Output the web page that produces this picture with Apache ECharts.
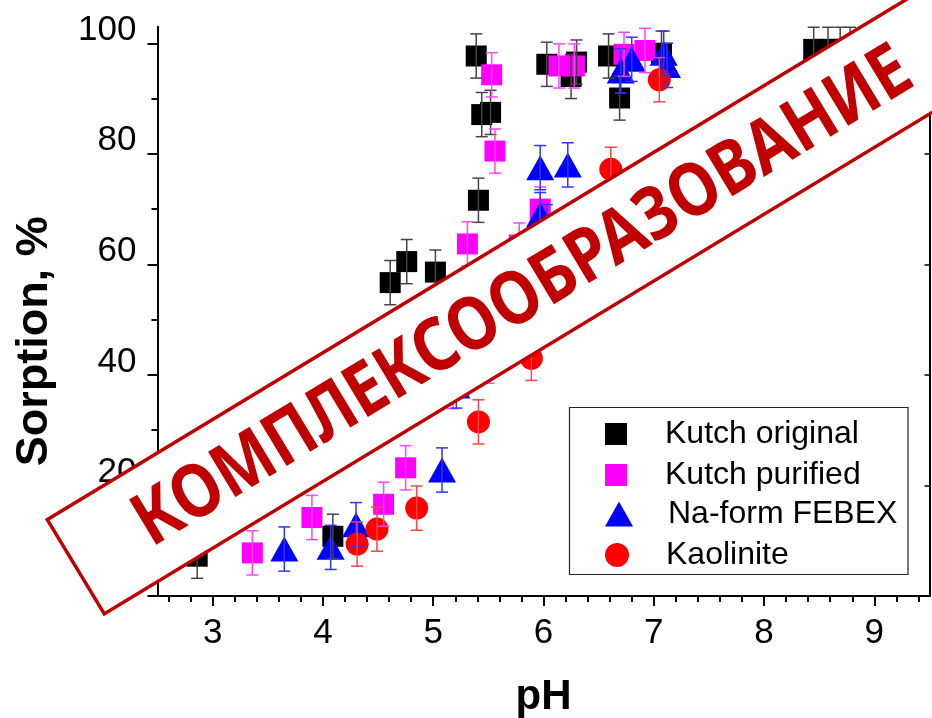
<!DOCTYPE html>
<html><head><meta charset="utf-8">
<script src="https://cdn.jsdelivr.net/npm/echarts@6/dist/echarts.min.js"></script>
<style>html,body{margin:0;padding:0;background:#fff}#c{width:932px;height:718px}</style>
</head><body><div id="c"></div>
<script>
// ---------- data ----------
const seriesNames = ['Kutch original', 'Kutch purified', 'Na-form FEBEX', 'Kaolinite'];

const kutchOrigPH   = [2.86, 4.09, 4.61, 4.76, 5.02, 5.41, 5.39, 5.44, 5.52, 6.03, 6.25, 6.30, 6.59, 6.69, 7.07, 8.45, 8.58, 8.69, 8.78];
const kutchOrigSorp = [7.2, 10.8, 56.7, 60.5, 58.6, 71.6, 97.7, 87.1, 87.5, 96.2, 94.0, 96.6, 97.7, 90.1, 98.2, 98.9, 98.9, 98.9, 98.9];
const kutchOrigErr  = [4, 4, 4, 4, 4, 4, 4, 4, 4, 4, 4, 4, 4, 4, 4, 4, 4, 4, 4];

const kutchPurPH   = [3.36, 3.90, 4.55, 4.75, 5.18, 5.31, 5.50, 5.53, 5.56, 5.78, 5.97, 6.14, 6.28, 6.73, 6.92];
const kutchPurSorp = [7.8, 14.2, 16.6, 23.2, 37.9, 63.7, 42.5, 94.3, 80.5, 63.5, 70.0, 95.9, 95.9, 98.0, 98.7];
const kutchPurErr  = [4, 4, 4, 4, 4, 4, 4, 4, 4, 4, 4, 4, 4, 4, 4];

const febexPH   = [3.65, 4.07, 4.30, 5.08, 5.21, 5.97, 5.97, 6.03, 6.22, 6.70, 6.80, 7.09, 7.12];
const febexSorp = [8.5, 8.8, 12.9, 22.8, 38.0, 77.5, 69.0, 66.8, 78.0, 95.0, 97.1, 98.2, 96.0];
const febexErr  = [4, 4, 4, 4, 4, 4, 4, 4, 4, 4, 4, 4, 4];

const kaolPH   = [4.31, 4.49, 4.85, 5.41, 5.89, 6.61, 7.05];
const kaolSorp = [9.4, 12.1, 15.9, 31.5, 43.0, 77.2, 93.4];
const kaolErr  = [4, 4, 4, 4, 4, 4, 4];

const xTickLabels = [3, 4, 5, 6, 7, 8, 9];
const yTickLabels = [20, 40, 60, 80, 100];
const yMajorTicks = [0, 20, 40, 60, 80, 100];
const yMinorTicks = [10, 30, 50, 70, 90];
const xMinorTicks = [];
for (let k = 13; k <= 47; k++) { if (k % 5 !== 0) xMinorTicks.push(k / 5); }
const xTopTicks = [];
for (let k = 13; k <= 47; k++) xTopTicks.push(k / 5);

const stampText = 'КОМПЛЕКСООБРАЗОВАНИЕ';

// ---------- chart ----------
const FONT = '"Liberation Sans", Arial, sans-serif';
const chart = echarts.init(document.getElementById('c'), null, {renderer: 'canvas'});

function scatter(name, ph, val, color, symbol, size) {
  return {
    type: 'scatter', name: name, symbol: symbol, symbolSize: size,
    data: ph.map((p, i) => [p, val[i]]),
    itemStyle: {color: color, opacity: 1},
    z: 2, silent: true
  };
}
function errBars(ph, val, err, color) {
  return {
    type: 'custom', z: 3, silent: true,
    data: ph.map((p, i) => [p, val[i] - err[i], val[i] + err[i]]),
    encode: {x: 0, y: [1, 2]},
    renderItem: function (params, api) {
      const x = api.value(0);
      const lo = api.coord([x, api.value(1)]);
      const hi = api.coord([x, api.value(2)]);
      const hw = 6;
      const st = {stroke: color, lineWidth: 1.5};
      return {type: 'group', children: [
        {type: 'line', shape: {x1: lo[0], y1: lo[1], x2: hi[0], y2: hi[1]}, style: st},
        {type: 'line', shape: {x1: lo[0] - hw, y1: lo[1], x2: lo[0] + hw, y2: lo[1]}, style: st},
        {type: 'line', shape: {x1: hi[0] - hw, y1: hi[1], x2: hi[0] + hw, y2: hi[1]}, style: st}
      ]};
    }
  };
}
function legendItem(name, icon, h, centerY) {
  return {
    data: [name], orient: 'vertical', left: 605, top: centerY - 14, padding: 0,
    itemWidth: 88, itemHeight: h, icon: icon, selectedMode: false,
    textStyle: {fontSize: 32, fontFamily: FONT, color: '#000'}
  };
}

const axisLineStyle = {color: '#000', width: 2};
const option = {
  animation: false,
  backgroundColor: '#fff',
  grid: {left: 157.5, right: 2.5, top: 26.7, bottom: 122, show: false,
         containLabel: false, outerBoundsMode: 'none'},
  xAxis: [
    {type: 'value', min: 2.5, max: 9.5, position: 'bottom',
     axisLine: {lineStyle: axisLineStyle},
     axisTick: {customValues: xTickLabels, length: 10, lineStyle: {color: '#000', width: 2}},
     axisLabel: {customValues: xTickLabels, margin: 20, fontSize: 35, color: '#000', fontFamily: FONT},
     splitLine: {show: false},
     name: 'pH', nameLocation: 'middle', nameGap: 80,
     nameTextStyle: {fontSize: 42, fontWeight: 'bold', color: '#000', fontFamily: FONT}},
    {type: 'value', min: 2.5, max: 9.5, position: 'bottom',
     axisLine: {show: false},
     axisTick: {customValues: xMinorTicks, length: 6, lineStyle: {color: '#000', width: 2}},
     axisLabel: {show: false}, splitLine: {show: false}},
    {type: 'value', min: 2.5, max: 9.5, position: 'top',
     axisLine: {lineStyle: axisLineStyle},
     axisTick: {inside: true, customValues: xTopTicks, length: 3, lineStyle: {color: '#000', width: 1}},
     axisLabel: {show: false}, splitLine: {show: false}}
  ],
  yAxis: [
    {type: 'value', min: 0, max: 103, position: 'left',
     axisLine: {lineStyle: axisLineStyle},
     axisTick: {customValues: yMajorTicks, length: 10, lineStyle: {color: '#000', width: 2}},
     axisLabel: {customValues: yTickLabels, margin: 21, fontSize: 35, color: '#000', fontFamily: FONT,
                 verticalAlign: 'bottom', lineHeight: 26},
     splitLine: {show: false},
     name: 'Sorption, %', nameLocation: 'middle', nameRotate: 90, nameGap: 100,
     nameTextStyle: {fontSize: 45, fontWeight: 'bold', color: '#000', fontFamily: FONT, padding: [0, 60, 0, 0]}},
    {type: 'value', min: 0, max: 103, position: 'left',
     axisLine: {show: false},
     axisTick: {customValues: yMinorTicks, length: 6, lineStyle: {color: '#000', width: 2}},
     axisLabel: {show: false}, splitLine: {show: false}},
    {type: 'value', min: 0, max: 103, position: 'right',
     axisLine: {lineStyle: axisLineStyle},
     axisTick: {inside: true, customValues: yMajorTicks, length: 5, lineStyle: {color: '#000', width: 1.5}},
     axisLabel: {show: false}, splitLine: {show: false}}
  ],
  legend: [
    legendItem(seriesNames[0], 'path://M0,0L22,0L22,22L0,22Z', 22, 432),
    legendItem(seriesNames[1], 'path://M0,0L22,0L22,22L0,22Z', 22, 473),
    legendItem(seriesNames[2], 'path://M14,0L28,25L0,25Z', 25, 512),
    legendItem(seriesNames[3], 'path://M12,0A12,12,0,1,1,11.99,0Z', 24, 553)
  ],
  series: [
    scatter(seriesNames[0], kutchOrigPH, kutchOrigSorp, '#000000', 'rect', 21),
    scatter(seriesNames[1], kutchPurPH, kutchPurSorp, '#ff00ff', 'rect', 21),
    scatter(seriesNames[2], febexPH, febexSorp, '#0000ff', 'triangle', [28, 25]),
    scatter(seriesNames[3], kaolPH, kaolSorp, '#ff0000', 'circle', 23),
    errBars(kutchOrigPH, kutchOrigSorp, kutchOrigErr, '#444444'),
    errBars(kutchPurPH, kutchPurSorp, kutchPurErr, '#ff44ff'),
    errBars(febexPH, febexSorp, febexErr, '#3333ff'),
    errBars(kaolPH, kaolSorp, kaolErr, '#ff4444')
  ],
  graphic: [
    {type: 'rect', z: 10, silent: true,
     shape: {x: 569.5, y: 407.5, width: 338.5, height: 167},
     style: {fill: null, stroke: '#222', lineWidth: 1.2}},
    {type: 'group', x: 47.3, y: 519.7, rotation: 31.2 * Math.PI / 180, z: 100, silent: true,
     children: [
       {type: 'rect', z: 100, shape: {x: 0, y: 0, width: 1150, height: 110},
        style: {fill: '#fff', stroke: '#c00000', lineWidth: 3.5}},
       {type: 'text', z: 101, x: 522, y: 57, scaleX: 0.86,
        style: {text: stampText, fill: '#c00000', align: 'center', verticalAlign: 'middle',
                font: 'bold 74px "Noto Sans", sans-serif'}}
     ]}
  ]
};
chart.setOption(option);
</script></body></html>
